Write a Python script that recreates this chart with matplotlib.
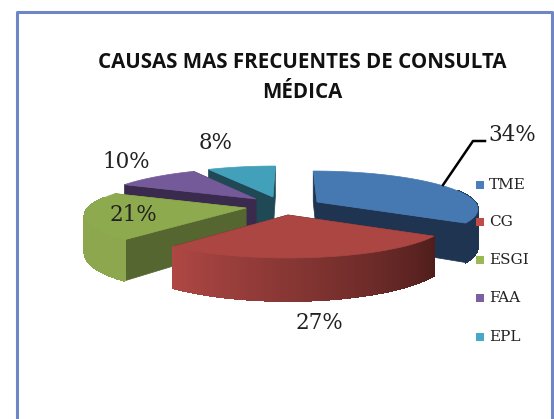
import numpy as np
import matplotlib
matplotlib.use('Agg')
import matplotlib.pyplot as plt
from matplotlib.colors import to_rgb
from matplotlib.patches import Polygon, Rectangle

labels = ['TME', 'CG', 'ESGI', 'FAA', 'EPL']
values = [34, 27, 21, 10, 8]
pct_labels = ['34%', '27%', '21%', '10%', '8%']

top_colors = ['#4679b2', '#ab4643', '#8eaa4e', '#755a9a', '#42a0ba']
side_colors = ['#1e3450', '#4f1e1c', '#556630', '#3a2a4e', '#1f4955']
rim_start = ['#1e3450', '#4f1e1c', '#8ca74e', '#3a2a4e', '#1f4955']
rim_end = ['#1e3450', '#ae4744', '#8ca74e', '#3a2a4e', '#1f4955']
legend_colors = ['#4a7ebb', '#be4b48', '#98b954', '#7d60a0', '#46aac5']

# pixel layout of the exploded slices
apex = [(317, 202), (288, 215), (246, 208), (256, 199), (273, 197)]
RX, RY, DEPTH, PERSP = 158, 36, 36, 0.162
VANISH_X = 290
draw_order = [4, 3, 0, 2, 1]

fig = plt.figure(figsize=(5.54, 4.19), dpi=100)
ax = fig.add_axes([0, 0, 1, 1])
ax.set_xlim(0, 554)
ax.set_ylim(419, 0)
ax.axis('off')


def rim_point(cx, cy, t, lower=False):
    s = 1 / (1 + PERSP * np.sin(t))
    x = cx + RX * np.cos(t) * s + (VANISH_X - cx) * (1 - s)
    y = cy - RY * np.sin(t) * s
    if lower:
        y += DEPTH * s
    return x, y


def draw_slice(i, t0, t1):
    cx, cy = apex[i]
    ts = np.linspace(t0, t1, 80)

    # radial walls first
    for t in (t0, t1):
        pts = [(cx, cy), rim_point(cx, cy, t),
               rim_point(cx, cy, t, True), (cx, cy + DEPTH)]
        ax.add_patch(Polygon(pts, fc=side_colors[i], ec=side_colors[i], lw=0.5, zorder=2))

    # outer wall, only the part that can be seen
    c0, c1 = np.array(to_rgb(rim_start[i])), np.array(to_rgb(rim_end[i]))
    for k in range(len(ts) - 1):
        if np.sin(ts[k]) > 0.3 and np.sin(ts[k + 1]) > 0.3:
            continue
        col = c0 + (c1 - c0) * k / (len(ts) - 2)
        pts = [rim_point(cx, cy, ts[k]), rim_point(cx, cy, ts[k + 1]),
               rim_point(cx, cy, ts[k + 1], True), rim_point(cx, cy, ts[k], True)]
        ax.add_patch(Polygon(pts, fc=col, ec=col, lw=0.8, antialiased=False, zorder=2))

    top = [(cx, cy)] + [rim_point(cx, cy, t) for t in ts]
    ax.add_patch(Polygon(top, fc=top_colors[i], ec=top_colors[i], lw=0.5, zorder=2))


# slices go clockwise from 12 o'clock
fracs = np.cumsum([0] + values) / sum(values)
angles = np.pi / 2 - 2 * np.pi * fracs
for i in draw_order:
    draw_slice(i, angles[i], angles[i + 1])

# chart frame, no bottom edge in the crop
ax.plot([16.5, 16.5, 552, 552], [419, 12, 12, 419], color='#6f86c4', lw=2.2, zorder=1)

ax.text(302.5, 62, 'CAUSAS MAS FRECUENTES DE CONSULTA', fontsize=14.8, fontweight='bold',
        family='Open Sans', ha='center', va='center', color='#111111', zorder=5)
ax.text(302.5, 92, 'MÉDICA', fontsize=14.8, fontweight='bold',
        family='Open Sans', ha='center', va='center', color='#111111', zorder=5)

# value labels
label_pos = [(512, 135), (319, 323), (133, 215), (126, 162), (216, 143)]
for txt, (x, y) in zip(pct_labels, label_pos):
    ax.text(x, y, txt, fontsize=15.5, family='DejaVu Serif', ha='center', va='center',
            color='#222222', zorder=5)

# leader for the first slice
ax.plot([443, 473, 485], [185, 141, 141], color='black', lw=1.8, zorder=4)

# legend
legend_y = [185, 222, 260, 298, 337]
for name, col, y in zip(labels, legend_colors, legend_y):
    ax.add_patch(Rectangle((476, y - 4), 8, 8, fc=col, ec='none', zorder=4))
    ax.text(489, y, name, fontsize=11, family='DejaVu Serif', va='center',
            color='#222222', zorder=5)

fig.savefig('out.png', dpi=100)
